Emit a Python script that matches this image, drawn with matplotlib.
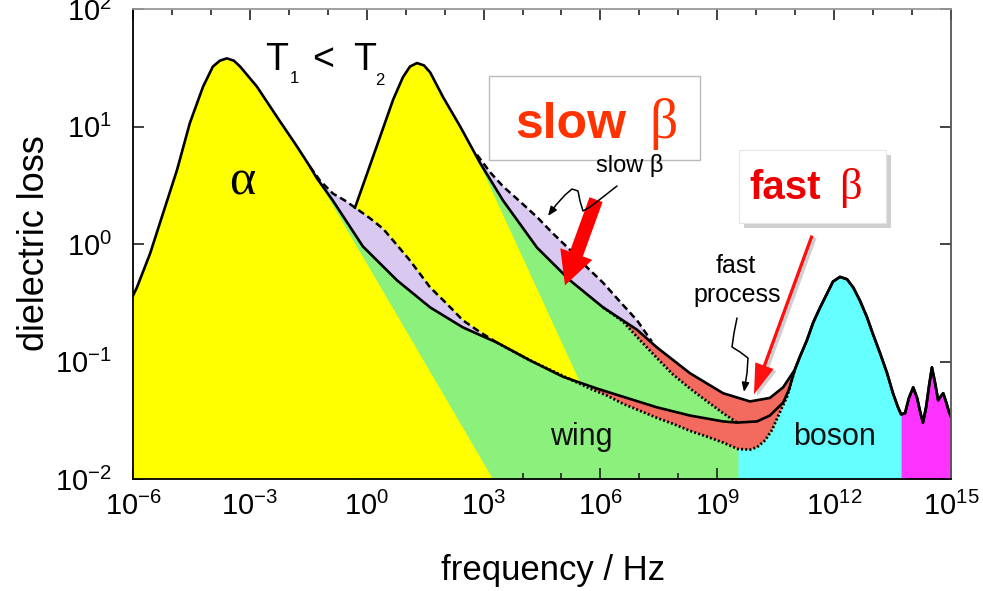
import numpy as np
import matplotlib
matplotlib.use('Agg')
import matplotlib.pyplot as plt
import matplotlib.ticker as ticker
import matplotlib.patches as ptc
from matplotlib.path import Path

plt.rcParams['font.family'] = 'Liberation Sans'
plt.rcParams['mathtext.fontset'] = 'custom'
plt.rcParams['mathtext.rm'] = 'Liberation Sans'
plt.rcParams['mathtext.it'] = 'Liberation Sans:italic'
plt.rcParams['axes.unicode_minus'] = False

# all curve values are log10(frequency / Hz) and log10(dielectric loss)
# spectrum at T1 (alpha peak, slow-beta region, minimum) up to where it joins the boson peak
t1_logf = [-6.00, -5.90, -5.56, -5.23, -4.87, -4.54, -4.20, -3.95, -3.77, -3.59, -3.41,
           -3.25, -2.82, -2.30, -1.79, -1.46, -1.28, -0.87, -0.10, 0.78, 1.63, 2.47, 3.35,
           4.19, 5.04, 5.91, 6.58, 7.45, 8.30, 9.15, 9.51, 10.02, 10.35, 10.69, 10.84]
t1_logeps = [-0.44, -0.37, -0.08, 0.26, 0.63, 1.03, 1.34, 1.51, 1.56, 1.58, 1.56,
             1.51, 1.34, 1.08, 0.83, 0.66, 0.56, 0.37, -0.02, -0.31, -0.54, -0.71, -0.84,
             -0.99, -1.13, -1.23, -1.30, -1.39, -1.46, -1.51, -1.52, -1.51, -1.46, -1.35, -1.24]

# spectrum at T2
t2_logf = [-0.30, 0.01, 0.34, 0.68, 0.93, 1.11, 1.29, 1.47, 1.63, 1.96, 2.40, 2.91,
           3.50, 4.37, 5.22, 6.07, 6.94, 7.45, 8.30, 9.15, 9.84, 10.35, 10.69]
t2_logeps = [0.31, 0.60, 0.91, 1.23, 1.42, 1.51, 1.54, 1.52, 1.46, 1.25, 1.00, 0.69,
             0.37, -0.03, -0.31, -0.54, -0.73, -0.88, -1.10, -1.27, -1.34, -1.31, -1.22]

# common high frequency part: boson peak and infrared peaks
hf_logf = [10.99, 11.12, 11.30, 11.46, 11.64, 11.82, 11.97, 12.15, 12.33, 12.49, 12.66,
           12.84, 13.00, 13.18, 13.36, 13.51, 13.64, 13.72, 13.82, 13.92, 14.03, 14.13,
           14.21, 14.28, 14.36, 14.44, 14.51, 14.59, 14.67, 14.75, 14.80, 14.87, 14.95, 15.00]
hf_logeps = [-1.07, -0.96, -0.82, -0.67, -0.54, -0.42, -0.32, -0.28, -0.30, -0.37, -0.48,
             -0.62, -0.77, -0.93, -1.10, -1.27, -1.39, -1.45, -1.44, -1.31, -1.22, -1.31,
             -1.43, -1.52, -1.39, -1.20, -1.05, -1.18, -1.33, -1.29, -1.27, -1.34, -1.43, -1.47]

# slow beta (dashed)
sb1_logf = [-1.46, -1.20, -0.87, -0.56, -0.30, 0.08, 0.42, 0.78, 1.11, 1.63, 2.06, 2.47, 2.91, 3.35]
sb1_logeps = [0.66, 0.54, 0.43, 0.37, 0.31, 0.22, 0.13, -0.01, -0.14, -0.37, -0.51, -0.65, -0.75, -0.84]
sb2_logf = [2.83, 3.17, 3.50, 3.94, 4.37, 4.78, 5.22, 5.66, 6.07, 6.50, 6.94, 7.32]
sb2_logeps = [0.76, 0.61, 0.49, 0.36, 0.23, 0.09, -0.05, -0.20, -0.33, -0.49, -0.65, -0.83]

# without fast process (dotted)
nf1_logf = [3.35, 4.19, 4.96, 5.73, 6.17, 6.58, 7.02, 7.45, 7.86, 8.30, 8.74, 9.15,
            9.53, 9.84, 10.02, 10.23, 10.41, 10.61, 10.79]
nf1_logeps = [-0.84, -0.99, -1.11, -1.23, -1.29, -1.36, -1.42, -1.48, -1.53, -1.59, -1.64, -1.69,
              -1.745, -1.75, -1.73, -1.67, -1.58, -1.43, -1.30]
nf2_logf = [6.07, 6.58, 7.02, 7.45, 7.86, 8.30, 8.74, 9.15, 9.51]
nf2_logeps = [-0.54, -0.66, -0.82, -0.97, -1.11, -1.23, -1.34, -1.44, -1.52]

# high frequency flanks of the two alpha peaks (edge of the yellow areas)
a1_logf = [-1.28, 3.24]
a1_logeps = [0.56, -2.00]
a2_logf = [2.86, 5.48]
a2_logeps = [0.71, -1.18]

# colour bands at the bottom
boson_from = 9.53
ir_from = 13.72

yellow = '#FFFF00'
green = '#8CF07C'
lilac = '#D9C8F0'
salmon = '#F26B5E'
cyan = '#66FFFF'
magenta = '#FF33FF'

fig = plt.figure(figsize=(9.83, 5.91), dpi=100)
ax = fig.add_axes([133 / 983, 1 - 479 / 591, 818 / 983, 470 / 591])


def lin(a):
    return 10.0 ** np.asarray(a, dtype=float)


def px(x, y):
    # position in the original picture (pixels) -> axes fraction
    return (x - 133.0) / 818.0, (479.0 - y) / 470.0


bottom = -2.0
t1f = np.concatenate([t1_logf, hf_logf])
t1e = np.concatenate([t1_logeps, hf_logeps])
t2f = np.concatenate([t2_logf, hf_logf])
t2e = np.concatenate([t2_logeps, hf_logeps])
t1_lf, t1_le = np.array(t1_logf), np.array(t1_logeps)
t2_lf, t2_le = np.array(t2_logf), np.array(t2_logeps)
sb1f, sb1e = np.array(sb1_logf), np.array(sb1_logeps)
nf1f, nf1e = np.array(nf1_logf), np.array(nf1_logeps)
nf2f, nf2e = np.array(nf2_logf), np.array(nf2_logeps)

# green background under both spectra
ax.fill_between(lin(t1f), lin(t1e), lin(bottom), color=green, lw=0, zorder=1)
ax.fill_between(lin(t2f), lin(t2e), lin(bottom), color=green, lw=0, zorder=1)

# boson and infrared bands
df = np.concatenate([nf1_logf, hf_logf])
de = np.concatenate([nf1_logeps, hf_logeps])
m = (df >= boson_from) & (df <= ir_from)
ax.fill_between(lin(df[m]), lin(de[m]), lin(bottom), color=cyan, lw=0, zorder=2)
hf = np.array(hf_logf)
m = hf >= ir_from
ax.fill_between(lin(hf[m]), lin(np.array(hf_logeps)[m]), lin(bottom), color=magenta, lw=0, zorder=2)

# alpha peak T1
m = t1f <= a1_logf[0]
pf = np.concatenate([t1f[m], a1_logf[1:], [t1f[0]]])
pe = np.concatenate([t1e[m], a1_logeps[1:], [bottom]])
ax.fill(lin(pf), lin(pe), color=yellow, lw=0, zorder=2)

# alpha peak T2 (sits on the T1 curve)
m1 = t2_lf < a2_logf[0]
m2 = (t1_lf >= sb1f[-1]) & (t1_lf < a2_logf[1])
m3 = sb1f >= t2_lf[0]
pf = np.concatenate([t2_lf[m1], a2_logf, t1_lf[m2][::-1], sb1f[m3][::-1]])
pe = np.concatenate([t2_le[m1], a2_logeps, t1_le[m2][::-1], sb1e[m3][::-1]])
ax.fill(lin(pf), lin(pe), color=yellow, lw=0, zorder=2)

# slow beta areas
m = (t1_lf >= sb1f[0]) & (t1_lf <= sb1f[-1])
pf = np.concatenate([sb1f, t1_lf[m][::-1]])
pe = np.concatenate([sb1e, t1_le[m][::-1]])
ax.fill(lin(pf), lin(pe), color=lilac, lw=0, zorder=2)
m = (t2_lf >= sb2_logf[0]) & (t2_lf <= sb2_logf[-1])
pf = np.concatenate([sb2_logf, t2_lf[m][::-1]])
pe = np.concatenate([sb2_logeps, t2_le[m][::-1]])
ax.fill(lin(pf), lin(pe), color=lilac, lw=0, zorder=2)

# fast process area
ma = t2_lf >= nf2f[0]
mb = nf1f >= 5.7
mc = (t1_lf >= 5.7) & (t1_lf <= nf2f[-1])
pf = np.concatenate([t2_lf[ma], hf_logf[:1], nf1f[mb][::-1], t1_lf[mc], nf2f[::-1]])
pe = np.concatenate([t2_le[ma], hf_logeps[:1], nf1e[mb][::-1], t1_le[mc], nf2e[::-1]])
ax.fill(lin(pf), lin(pe), color=salmon, lw=0, zorder=2)

# curves
ax.plot(lin(t1f), lin(t1e), color='k', lw=1.9, zorder=4)
ax.plot(lin(t2f), lin(t2e), color='k', lw=1.9, zorder=4)
ax.plot(lin(sb1_logf), lin(sb1_logeps), color='k', lw=1.8, ls=(0, (2.8, 1.6)), zorder=4)
ax.plot(lin(sb2_logf), lin(sb2_logeps), color='k', lw=1.8, ls=(0, (2.8, 1.6)), zorder=4)
ax.plot(lin(nf1_logf + hf_logf[:1]), lin(nf1_logeps + hf_logeps[:1]), color='k', lw=2.0,
        ls=(0, (0.7, 0.8)), zorder=4)
ax.plot(lin(nf2_logf), lin(nf2_logeps), color='k', lw=2.0, ls=(0, (0.7, 0.8)), zorder=4)

ax.set_xscale('log')
ax.set_yscale('log')
ax.set_xlim(1e-6, 1e15)
ax.set_ylim(1e-2, 1e2)

ax.xaxis.set_major_locator(ticker.FixedLocator(10.0 ** np.arange(-6, 16, 3)))
ax.xaxis.set_minor_locator(ticker.FixedLocator(10.0 ** np.arange(-6, 16, 1)))
ax.xaxis.set_minor_formatter(ticker.NullFormatter())
ax.yaxis.set_major_locator(ticker.FixedLocator(10.0 ** np.arange(-2, 3)))
ax.yaxis.set_minor_locator(ticker.NullLocator())
fmt = ticker.FuncFormatter(lambda v, p: r'$\mathregular{10^{%d}}$' % int(round(np.log10(v))))
ax.xaxis.set_major_formatter(fmt)
ax.yaxis.set_major_formatter(fmt)
ax.tick_params(which='major', direction='in', length=8, width=1.2, top=True, right=True,
               labelsize=21, color='#222222')
ax.tick_params(axis='x', which='major', pad=9)
ax.tick_params(axis='y', which='major', pad=15)
ax.tick_params(which='minor', direction='in', length=4.3, width=1.2, top=True, color='#222222')
for s in ax.spines.values():
    s.set_linewidth(1.3)
    s.set_zorder(6)
ax.spines['top'].set_color('#999999')
ax.spines['right'].set_color('#555555')

fig.text(553 / 983, 1 - 580 / 591, 'frequency / Hz', fontsize=25, ha='center', va='baseline')
fig.text(35 / 983, 1 - 243 / 591, 'dielectric loss', fontsize=26, ha='center', va='center',
         rotation=90)

# labels inside the plot
tr = ax.transAxes
ax.text(*px(265, 70), 'T', fontsize=27, ha='left', va='baseline', transform=tr, zorder=7)
ax.text(*px(290, 83), '1', fontsize=12, ha='left', va='baseline', transform=tr, zorder=7)
ax.text(*px(312, 70), '<', fontsize=27, ha='left', va='baseline', transform=tr, zorder=7)
ax.text(*px(353, 70), 'T', fontsize=27, ha='left', va='baseline', transform=tr, zorder=7)
ax.text(*px(375, 85), '2', fontsize=12, ha='left', va='baseline', transform=tr, zorder=7)
ax.text(*px(242, 182), 'α', fontsize=36, family='Liberation Serif', ha='center', va='center',
        transform=tr, zorder=7)
ax.text(*px(581, 445), 'wing', fontsize=22, ha='center', va='baseline', color='#111111',
        transform=tr, zorder=7)
ax.text(*px(835, 445), 'boson', fontsize=22, ha='center', va='baseline', color='#111111',
        transform=tr, zorder=7)
ax.text(*px(630, 172), 'slow β', fontsize=17, ha='center', va='baseline', transform=tr, zorder=7)
ax.text(*px(736, 273), 'fast', fontsize=18, ha='center', va='baseline', transform=tr, zorder=7)
ax.text(*px(737, 302), 'process', fontsize=18, ha='center', va='baseline', transform=tr, zorder=7)

# boxed labels
x0, y0 = px(489, 160)
x1, y1 = px(700, 76)
ax.add_patch(ptc.Rectangle((x0, y0), x1 - x0, y1 - y0, transform=tr, facecolor='white',
                           edgecolor='#BBBBBB', lw=1.0, zorder=6, clip_on=False))
ax.text(*px(515, 138), 'slow', fontsize=36, fontweight='bold', color='#FF3300', ha='left',
        va='baseline', transform=tr, zorder=7)
ax.text(*px(678, 138), 'β', fontsize=40, family='Liberation Serif', color='#FF3300', ha='right',
        va='baseline', transform=tr, zorder=7)

x0, y0 = px(739, 223)
x1, y1 = px(886, 150)
sx, sy = px(744, 228)
ax.add_patch(ptc.Rectangle((sx, sy), x1 - x0, y1 - y0, transform=tr, facecolor='#888888',
                           alpha=0.4, lw=0, zorder=6))
ax.add_patch(ptc.Rectangle((x0, y0), x1 - x0, y1 - y0, transform=tr, facecolor='white',
                           edgecolor='#E5E5E5', lw=0.8, zorder=6))
ax.text(*px(749, 199), 'fast', fontsize=29, fontweight='bold', color='#EE0000', ha='left',
        va='baseline', transform=tr, zorder=7)
ax.text(*px(862, 199), 'β', fontsize=32, family='Liberation Serif', color='#EE0000', ha='right',
        va='baseline', transform=tr, zorder=7)

# red arrows
ax.add_patch(ptc.FancyArrowPatch(px(597, 197), px(564, 288), transform=tr,
                                 arrowstyle='simple,head_width=2.45,head_length=2.4,tail_width=1.0',
                                 mutation_scale=10, color='#FF0000', lw=0, zorder=7))
ax.add_patch(ptc.FancyArrowPatch(px(816, 235), px(756, 399), transform=tr,
                                 arrowstyle='simple,head_width=1.4,head_length=2.2,tail_width=0.24',
                                 mutation_scale=10, color='#777777', alpha=0.35, lw=0, zorder=6))
ax.add_patch(ptc.FancyArrowPatch(px(813, 233), px(753, 397), transform=tr,
                                 arrowstyle='simple,head_width=1.4,head_length=2.2,tail_width=0.24',
                                 mutation_scale=10, color='#FF1010', lw=0, zorder=7))

# black squiggly pointers
squig1 = [(617, 186), (603, 197), (590, 207), (583, 211), (580, 201), (578, 191), (572, 189),
          (565, 195), (556, 205), (548, 216)]
squig2 = [(737, 318), (734, 333), (732, 347), (740, 352), (748, 358), (747, 373), (744, 392)]
for sq in (squig1, squig2):
    verts = [px(x, y) for x, y in sq]
    path = Path(verts)
    ax.add_patch(ptc.FancyArrowPatch(path=path, transform=tr,
                                     arrowstyle='-|>,head_length=0.55,head_width=0.22',
                                     mutation_scale=10, color='k', lw=1.1, zorder=7))

fig.savefig('out.png', dpi=100)
